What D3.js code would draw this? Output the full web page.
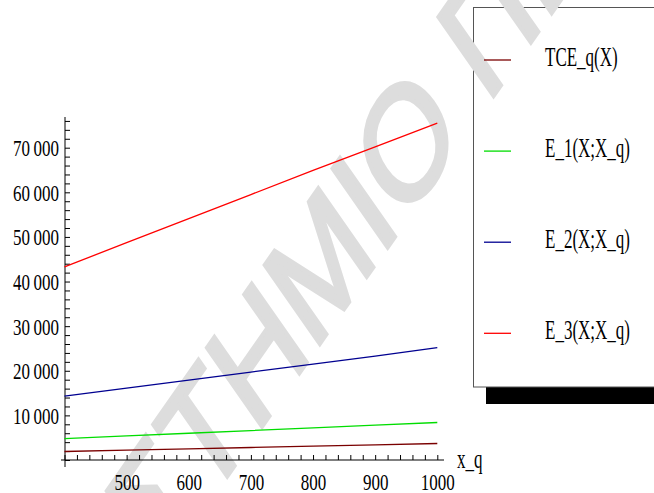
<!doctype html>
<html>
<head>
<meta charset="utf-8">
<style>
    body { margin: 0; background: #fff; }
    svg text { font-family: "Liberation Serif", "DejaVu Serif", serif; fill: #000; }
</style>
<script src="https://d3js.org/d3.v7.min.js"></script>
</head>
<body>
<svg width="654" height="493"></svg>
<script>
// values
var xq = [400, 500, 600, 700, 800, 900, 1000];
var tce = [1900, 2200, 2500, 2800, 3100, 3400, 3700];
var e1 = [4800, 5400, 6000, 6600, 7200, 7800, 8400];
var e2 = [14300, 16100, 17900, 19700, 21500, 23300, 25200];
var e3 = [43300, 48700, 54100, 59500, 64900, 70200, 75500];
var names = ["TCE_q(X)", "E_1(X;X_q)", "E_2(X;X_q)", "E_3(X;X_q)"];
var colors = ["#7a0000", "#00dd00", "#000090", "#ff0000"];
var xLabels = [500, 600, 700, 800, 900, 1000];
var yLabels = [10000, 20000, 30000, 40000, 50000, 60000, 70000];

var svg = d3.select("svg");

// legend frame and its shadow
svg.append("rect").attr("x", 486).attr("y", 387).attr("width", 200).attr("height", 17).attr("fill", "#000");
svg.append("rect").attr("x", 473.5).attr("y", 7.5).attr("width", 220).attr("height", 379.5)
    .attr("fill", "#fff").attr("stroke", "#555").attr("stroke-width", 1);

// watermark (the whole picture is squeezed sideways, so is this)
var wm = svg.append("g")
    .attr("transform", "scale(0.7,1) translate(664,137) rotate(-45)");
wm.append("text").attr("text-anchor", "end")
    .style("font-family", "'Liberation Sans', sans-serif").style("font-size", "162px")
    .style("fill", "#dddddd").style("stroke", "#dddddd").style("stroke-width", 5)
    .text("ΠΑΝΕΠΙΣΤΗΜΙΟ");
wm.append("text").attr("x", 45)
    .style("font-family", "'Liberation Sans', sans-serif").style("font-size", "162px")
    .style("fill", "#dddddd").style("stroke", "#dddddd").style("stroke-width", 5)
    .text("ΠΕΙΡΑΙΩΣ");

var x = d3.scaleLinear().domain([400, 1000]).range([64.5, 437.3]);
var y = d3.scaleLinear().domain([0, 70000]).range([460, 147.7]);

var fmt = function(d) { return d >= 10000 ? d3.format(",")(d).replace(",", "\u2009") : String(d); };
var sx = 0.74;

// x axis
var xAxis = svg.append("g")
    .attr("transform", "translate(0,460)")
    .call(d3.axisBottom(x)
        .tickValues(d3.range(400, 1001, 20))
        .tickSizeInner(-5).tickSizeOuter(0)
        .tickFormat(function(d) { return xLabels.indexOf(d) >= 0 ? fmt(d) : ""; }));
xAxis.select(".domain").remove();
xAxis.selectAll("line").attr("stroke", "#000");
xAxis.selectAll("text")
    .attr("y", 0).attr("dy", 0)
    .attr("transform", "scale(" + sx + ",1) translate(0,30)")
    .style("font-size", "23px");
svg.append("line").attr("x1", 61).attr("x2", 444).attr("y1", 460).attr("y2", 460).attr("stroke", "#000");

// y axis
var yAxis = svg.append("g")
    .attr("transform", "translate(65,0)")
    .call(d3.axisLeft(y)
        .tickValues(d3.range(0, 76001, 2000))
        .tickSizeInner(-5).tickSizeOuter(0)
        .tickFormat(function(d) { return yLabels.indexOf(d) >= 0 ? fmt(d) : ""; }));
yAxis.select(".domain").remove();
yAxis.selectAll("line").attr("stroke", "#000");
yAxis.selectAll("text")
    .attr("x", -6 / sx).attr("dy", "0.35em")
    .attr("transform", "scale(" + sx + ",1)")
    .style("font-size", "23px");
svg.append("line").attr("x1", 65).attr("x2", 65).attr("y1", 117).attr("y2", 467).attr("stroke", "#000");

svg.append("text")
    .attr("transform", "translate(457,468) scale(0.63,1)")
    .style("font-size", "27px")
    .text("x_q");

// series
var series = [tce, e1, e2, e3];
var line = d3.line().x(function(d, i) { return x(xq[i]); }).y(function(d) { return y(d); });
series.forEach(function(s, i) {
    svg.append("path").datum(s)
        .attr("d", line)
        .attr("fill", "none")
        .attr("stroke", colors[i])
        .attr("stroke-width", 1.3);
});

// legend entries
var ly = d3.scalePoint().domain(names).range([60, 333.3]);
names.forEach(function(n, i) {
    svg.append("line").attr("x1", 484).attr("x2", 511)
        .attr("y1", ly(n)).attr("y2", ly(n))
        .attr("stroke", colors[i]).attr("stroke-width", 1.3);
    svg.append("text")
        .attr("transform", "translate(545," + (ly(n) + 5.5) + ") scale(0.63,1)")
        .style("font-size", "27px")
        .text(n);
});
</script>
</body>
</html>
